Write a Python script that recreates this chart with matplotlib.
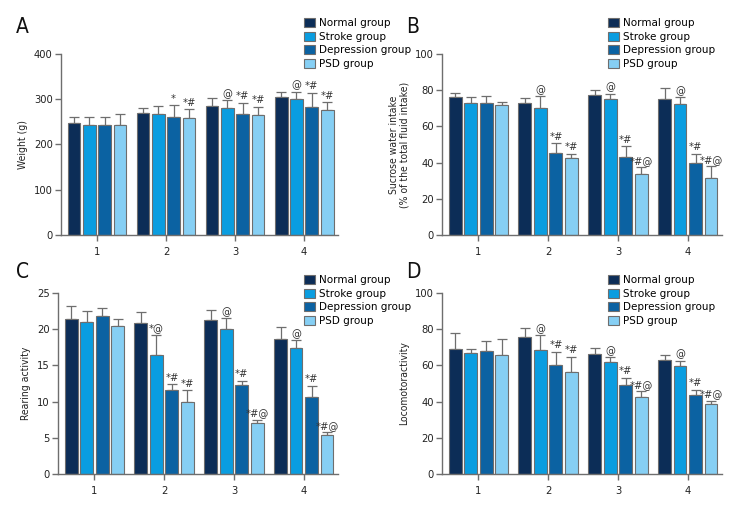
import matplotlib
matplotlib.use("Agg")
import matplotlib.pyplot as plt
import numpy as np
from matplotlib.patches import Patch

plt.rcParams['font.family'] = ['DejaVu Sans']
plt.rcParams['font.stretch'] = 'condensed'

weeks = ["1", "2", "3", "4"]
groups = ["Normal group", "Stroke group", "Depression group", "PSD group"]
colors = ["#0c2d57", "#0a9de0", "#0b62a2", "#86cff4"]

# Panel A: weight (g)
weight_mean = [[248, 270, 285, 305], [243, 268, 281, 300], [243, 261, 267, 282], [243, 258, 265, 276]]
weight_top = [[260, 281, 302, 316], [260, 284, 298, 316], [260, 287, 292, 314], [267, 278, 283, 294]]
weight_sig = [["", "", "", ""], ["", "", "@", "@"], ["", "*", "*#", "*#"], ["", "*#", "*#", "*#"]]

# Panel B: sucrose water intake
sucrose_mean = [[76.2, 73.0, 77.3, 75.1], [73.0, 70.3, 75.3, 72.4], [73.0, 45.1, 43.1, 39.8], [71.6, 42.5, 33.9, 31.5]]
sucrose_top = [[78.5, 75.7, 80.1, 81.0], [76.4, 76.6, 77.9, 76.2], [76.8, 50.6, 49.0, 44.8], [73.5, 44.8, 37.4, 37.9]]
sucrose_sig = [["", "", "", ""], ["", "@", "@", "@"], ["", "*#", "*#", "*#"], ["", "*#", "*#@", "*#@"]]

# Panel C: rearing activity
rearing_mean = [[21.36, 20.8, 21.3, 18.68], [21.03, 16.4, 20.06, 17.43], [21.8, 11.58, 12.27, 10.6], [20.48, 10.0, 7.06, 5.4]]
rearing_top = [[23.15, 22.4, 22.6, 20.34], [22.46, 19.2, 21.5, 18.5], [22.9, 12.4, 12.9, 12.2], [21.36, 11.6, 7.5, 5.77]]
rearing_sig = [["", "", "", ""], ["", "*@", "@", "@"], ["", "*#", "*#", "*#"], ["", "*#", "*#@", "*#@"]]

# Panel D: locomotor activity
loco_mean = [[68.8, 75.8, 66.2, 63.1], [66.8, 68.3, 62.0, 59.6], [67.9, 60.1, 49.4, 43.7], [65.9, 56.3, 42.6, 38.6]]
loco_top = [[78.0, 80.4, 69.7, 65.9], [69.2, 76.6, 64.6, 62.7], [73.4, 67.5, 53.1, 46.5], [74.7, 64.9, 45.8, 40.6]]
loco_sig = [["", "", "", ""], ["", "@", "@", "@"], ["", "*#", "*#", "*#"], ["", "*#", "*#@", "*#@"]]

W, H = 744.0, 516.0
def fx(px):
    return px / W
def fy(py):
    return 1 - py / H

panels = [
    ("A", weight_mean, weight_top, weight_sig, "Weight (g)", 400, 100, (61, 54, 338, 235), (16, 27), (304, 18)),
    ("B", sucrose_mean, sucrose_top, sucrose_sig, "Sucrose water intake\n(% of the total fluid intake)", 100, 20, (442, 54, 722, 235), (406, 27), (608, 18)),
    ("C", rearing_mean, rearing_top, rearing_sig, "Rearing activity", 25, 5, (58, 293, 338, 474), (16, 272), (304, 275)),
    ("D", loco_mean, loco_top, loco_sig, "Locomotoractivity", 100, 20, (442, 293, 722, 474), (406, 272), (608, 275)),
]

fig = plt.figure(figsize=(7.44, 5.16), dpi=100)
gray = "#6e6e6e"
x = np.arange(1, len(weeks) + 1)
step = 0.222
width = 0.185

for letter, means, tops, sigs, ylabel, ymax, ystep, box, letpos, legpos in panels:
    l, t, r, b = box
    ax = fig.add_axes([fx(l), fy(b), fx(r) - fx(l), fy(t) - fy(b)])
    for gi in range(len(groups)):
        xs = x + (gi - 1.5) * step
        m = np.array(means[gi])
        tp = np.array(tops[gi])
        ax.bar(xs, m, width=width, color=colors[gi], edgecolor=gray, linewidth=0.8, zorder=2)
        ax.errorbar(xs, m, yerr=[np.zeros_like(m), tp - m], fmt="none", ecolor=gray,
                    elinewidth=0.9, capsize=3.5, capthick=0.9, zorder=1)
        for xi, ti, s in zip(xs, tp, sigs[gi]):
            if s:
                ax.text(xi, ti + ymax * 0.008, s, ha="center", va="bottom", fontsize=8, color="#333333")
    ax.set_xlim(0.48, 4.49)
    ax.set_ylim(0, ymax)
    ax.set_yticks(np.arange(0, ymax + 0.01, ystep))
    ax.set_xticks(x)
    ax.set_xticklabels(weeks)
    ax.spines["top"].set_visible(False)
    ax.spines["right"].set_visible(False)
    for sp in ("left", "bottom"):
        ax.spines[sp].set_color(gray)
        ax.spines[sp].set_linewidth(1.0)
    ax.tick_params(axis="both", colors=gray, labelcolor="#222222", labelsize=8, length=4, width=1.0)
    ax.tick_params(axis="y", pad=2)
    ax.tick_params(axis="x", pad=5)
    ax.set_ylabel(ylabel, fontsize=7.5, color="#222222", linespacing=1.05, labelpad=4)
    fig.text(fx(letpos[0]), fy(letpos[1]), letter, fontsize=15, color="#111111", va="center", ha="left")
    handles = [Patch(facecolor=c, edgecolor=gray, linewidth=0.8) for c in colors]
    fig.legend(handles, groups, loc="upper left", bbox_to_anchor=(fx(legpos[0]), fy(legpos[1])), frameon=False,
               prop={"family": "DejaVu Sans", "stretch": "normal", "size": 7.5},
               handlelength=1.05, handleheight=1.0, handletextpad=0.4, labelspacing=0.32, borderaxespad=0,
               borderpad=0)

fig.savefig("out.png", dpi=100)
